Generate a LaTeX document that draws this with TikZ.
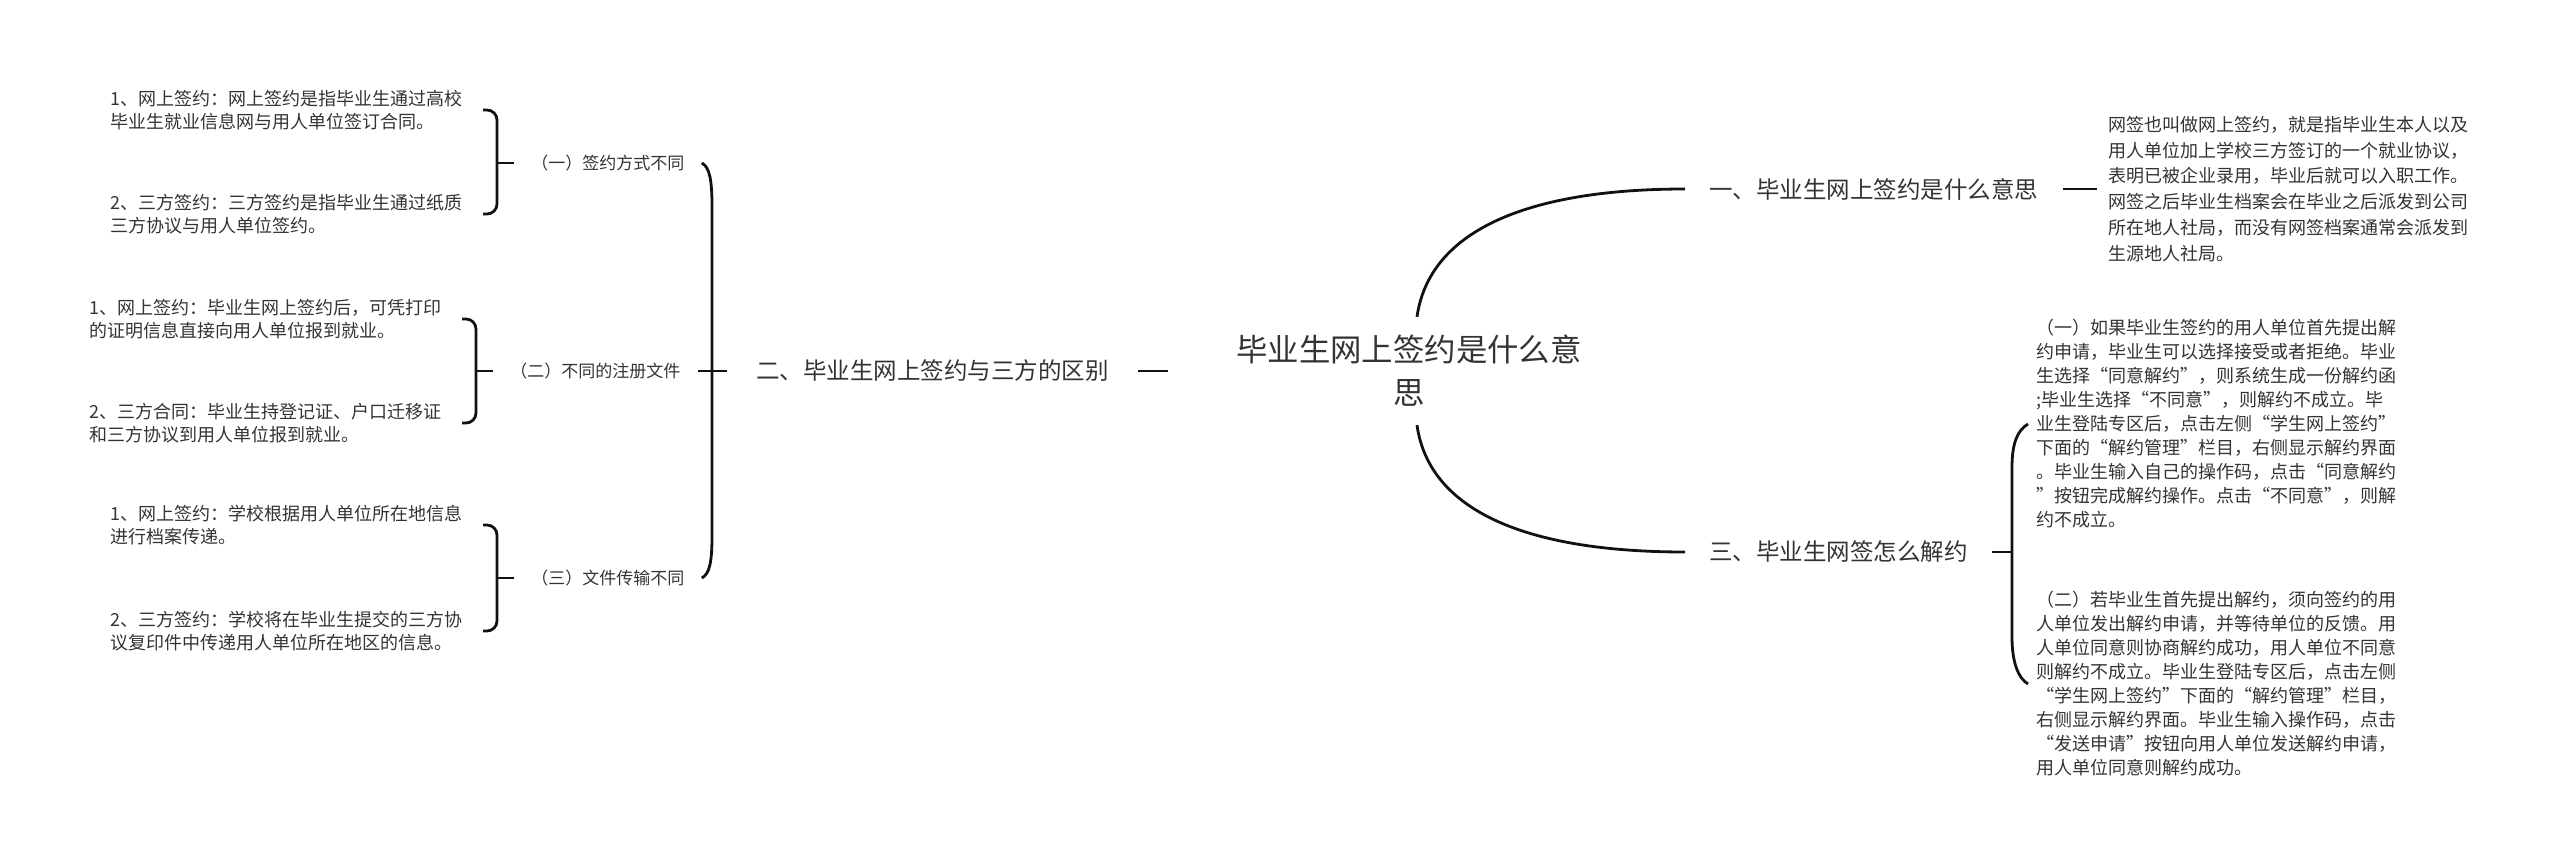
\documentclass[tikz,border=0pt]{standalone}
\usepackage{fontspec}
\setmainfont{Noto Sans CJK SC}
\usepackage{tikz}
\usetikzlibrary{positioning, calc}
\definecolor{inkgray}{HTML}{333333}
\definecolor{linkblack}{HTML}{111111}

\begin{document}
\begin{tikzpicture}[x=0.5pt, y=0.5pt,
    link/.style={draw=linkblack, line width=1.4pt},
    brace/.style={link, rounded corners=5pt},
    leaf/.style={text=inkgray, font=\fontsize{9}{11.75}\selectfont, align=left, inner xsep=10pt, inner ysep=2pt, anchor=east},
    sub/.style={text=inkgray, font=\fontsize{8.5}{10}\selectfont, inner xsep=8.5pt, anchor=west},
    topic/.style={text=inkgray, font=\fontsize{11.75}{14}\selectfont, inner xsep=12pt},
    note/.style={text=inkgray, font=\fontsize{9}{12}\selectfont, align=left, anchor=west}]
  \useasboundingbox (0,0) rectangle (2560,-861);

  % centre and main topics
  \node[text=inkgray, font=\fontsize{15.7}{21.5}\selectfont, align=center, inner xsep=34pt, inner ysep=9pt] (root) at (1409,-371) {毕业生网上签约是什么意\\思};
  \node[topic, anchor=west] (r1) at (1685,-189) {一、毕业生网上签约是什么意思};
  \node[topic, anchor=west] (r3) at (1685,-552) {三、毕业生网签怎么解约};
  \node[topic, anchor=east, inner xsep=14.5pt] (l2) at (1138,-371) {二、毕业生网上签约与三方的区别};

  % right side texts
  \node[note, font=\fontsize{9}{12.9}\selectfont, inner xsep=5.5pt] (p1) at (2097,-189) {网签也叫做网上签约，就是指毕业生本人以及\\用人单位加上学校三方签订的一个就业协议，\\表明已被企业录用，毕业后就可以入职工作。\\网签之后毕业生档案会在毕业之后派发到公司\\所在地人社局，而没有网签档案通常会派发到\\生源地人社局。};
  \node[note, inner xsep=4pt] (q1) at (2028,-424) {（一）如果毕业生签约的用人单位首先提出解\\约申请，毕业生可以选择接受或者拒绝。毕业\\生选择“同意解约”，则系统生成一份解约函\\;毕业生选择“不同意”，则解约不成立。毕\\业生登陆专区后，点击左侧“学生网上签约”\\下面的“解约管理”栏目，右侧显示解约界面\\。毕业生输入自己的操作码，点击“同意解约\\”按钮完成解约操作。点击“不同意”，则解\\约不成立。};
  \node[note, inner xsep=4pt] (q2) at (2028,-684) {（二）若毕业生首先提出解约，须向签约的用\\人单位发出解约申请，并等待单位的反馈。用\\人单位同意则协商解约成功，用人单位不同意\\则解约不成立。毕业生登陆专区后，点击左侧\\“学生网上签约”下面的“解约管理”栏目，\\右侧显示解约界面。毕业生输入操作码，点击\\“发送申请”按钮向用人单位发送解约申请，\\用人单位同意则解约成功。};

  % left side
  \node[sub] (s1) at (514,-163) {（一）签约方式不同};
  \node[sub] (s2) at (493,-371) {（二）不同的注册文件};
  \node[sub] (s3) at (514,-578) {（三）文件传输不同};
  \foreach \nm/\xx/\yy/\txt in {
      c11/483/110/{1、网上签约：网上签约是指毕业生通过高校\\毕业生就业信息网与用人单位签订合同。},
      c12/483/214/{2、三方签约：三方签约是指毕业生通过纸质\\三方协议与用人单位签约。},
      c21/462/319/{1、网上签约：毕业生网上签约后，可凭打印\\的证明信息直接向用人单位报到就业。},
      c22/462/423/{2、三方合同：毕业生持登记证、户口迁移证\\和三方协议到用人单位报到就业。},
      c31/483/525/{1、网上签约：学校根据用人单位所在地信息\\进行档案传递。},
      c32/483/631/{2、三方签约：学校将在毕业生提交的三方协\\议复印件中传递用人单位所在地区的信息。}} {
    \node[leaf] (\nm) at (\xx,-\yy) {\txt};
  }

  % connectors
  \coordinate (lfork) at (712,-371);
  \coordinate (rfork) at (2012,-552);
  \draw[link] ([xshift=4pt]root.north) .. controls +(12,85) and +(-160,0) .. (r1.west);
  \draw[link] ([xshift=4pt]root.south) .. controls +(12,-85) and +(-160,0) .. (r3.west);
  \draw[link] (root.west) -- (l2.east);
  \draw[link] (r1.east) -- (p1.west);
  \draw[link] (r3.east) -- (rfork);
  \draw[link] (q1.west) .. controls +(-10,-6) and +(0,25) .. ($(rfork)+(0,85)$) -- ($(rfork)+(0,-85)$) .. controls +(0,-25) and +(-10,6) .. (q2.west);
  \draw[link] (s2.east) -- (l2.west);
  \draw[link] (s1.east) .. controls +(8,-4) and +(0,25) .. ($(lfork)+(0,165)$) -- ($(lfork)+(0,-165)$) .. controls +(0,-25) and +(8,4) .. (s3.east);
  \foreach \a/\b/\p in {c11/c12/s1, c21/c22/s2, c31/c32/s3} {
    \draw[brace] (\a.east) -- ++(14,0) |- (\b.east);
    \draw[link] (\p.west) -- ++(-17,0);
  }
\end{tikzpicture}
\end{document}
